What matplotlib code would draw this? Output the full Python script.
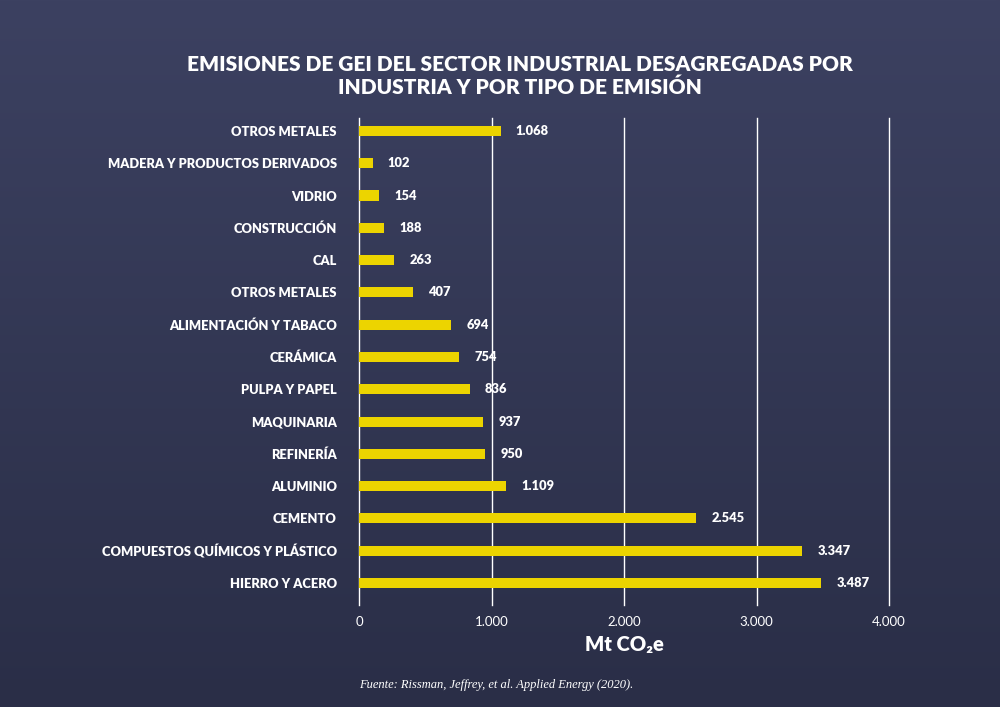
import numpy as np
import matplotlib.pyplot as plt
from matplotlib.colors import LinearSegmentedColormap

# datos (de arriba a abajo en el gráfico)
industrias = [
    "OTROS METALES",
    "MADERA Y PRODUCTOS DERIVADOS",
    "VIDRIO",
    "CONSTRUCCIÓN",
    "CAL",
    "OTROS METALES",
    "ALIMENTACIÓN Y TABACO",
    "CERÁMICA",
    "PULPA Y PAPEL",
    "MAQUINARIA",
    "REFINERÍA",
    "ALUMINIO",
    "CEMENTO",
    "COMPUESTOS QUÍMICOS Y PLÁSTICO",
    "HIERRO Y ACERO",
]
emisiones = [1068, 102, 154, 188, 263, 407, 694, 754, 836, 937, 950, 1109, 2545, 3347, 3487]
ticks_x = [0, 1000, 2000, 3000, 4000]

AMARILLO = "#ecd400"
BLANCO = "#ffffff"
FONDO_ARRIBA = "#3c4161"
FONDO_ABAJO = "#2a2e47"


def miles(v):
    return f"{v:,}".replace(",", ".")


fig = plt.figure(figsize=(10, 7.07), dpi=100)

# fondo degradado
bg = fig.add_axes([0, 0, 1, 1], zorder=-10)
cmap = LinearSegmentedColormap.from_list("fondo", [FONDO_ARRIBA, FONDO_ABAJO])
bg.imshow(np.linspace(0, 1, 256).reshape(-1, 1), aspect="auto", cmap=cmap,
          extent=[0, 1, 0, 1])
bg.axis("off")

ax = fig.add_axes([0.359, 0.1443, 0.530, 0.6888])
ax.patch.set_alpha(0)

n = len(industrias)
pos = np.arange(n)[::-1]
ax.barh(pos, emisiones, height=0.31, color=AMARILLO, zorder=3)

for p, v in zip(pos, emisiones):
    ax.annotate(miles(v), (v, p), xytext=(11, 0), textcoords="offset points",
                va="center", ha="left", color=BLANCO, fontsize=9.3,
                fontfamily="Lato", fontweight="heavy")

ax.set_xlim(0, 4000)
ax.set_ylim(-0.68, n - 1 + 0.40)
ax.set_yticks(pos)
ax.set_yticklabels(industrias, fontfamily="Lato", fontweight="heavy",
                   fontsize=9.3, color=BLANCO)
ax.set_xticks(ticks_x)
ax.set_xticklabels([miles(t) for t in ticks_x], fontfamily="Lato",
                   fontweight="normal", fontsize=9.5, color=BLANCO)
ax.tick_params(axis="y", length=0, pad=16)
ax.tick_params(axis="x", length=0, pad=8)
for s in ax.spines.values():
    s.set_visible(False)
ax.xaxis.grid(True, color=BLANCO, linewidth=1, zorder=1)
for gl in ax.get_xgridlines():
    gl.set_clip_on(False)
ax.set_axisbelow(True)

ax.set_xlabel("Mt CO₂e", fontfamily="Lato", fontweight="heavy", fontsize=14.5,
              color=BLANCO, labelpad=5)

fig.text(0.52, 0.892, "EMISIONES DE GEI DEL SECTOR INDUSTRIAL DESAGREGADAS POR\n"
         "INDUSTRIA Y POR TIPO DE EMISIÓN", ha="center", va="center",
         color=BLANCO, fontsize=15, fontfamily="Lato", fontweight="heavy",
         linespacing=1.2)

fig.text(0.359, 0.031, "Fuente: Rissman, Jeffrey, et al. Applied Energy (2020).",
         ha="left", va="center", color=BLANCO, fontsize=9,
         fontfamily="Liberation Serif", style="italic")

fig.savefig("out.png", dpi=100)
